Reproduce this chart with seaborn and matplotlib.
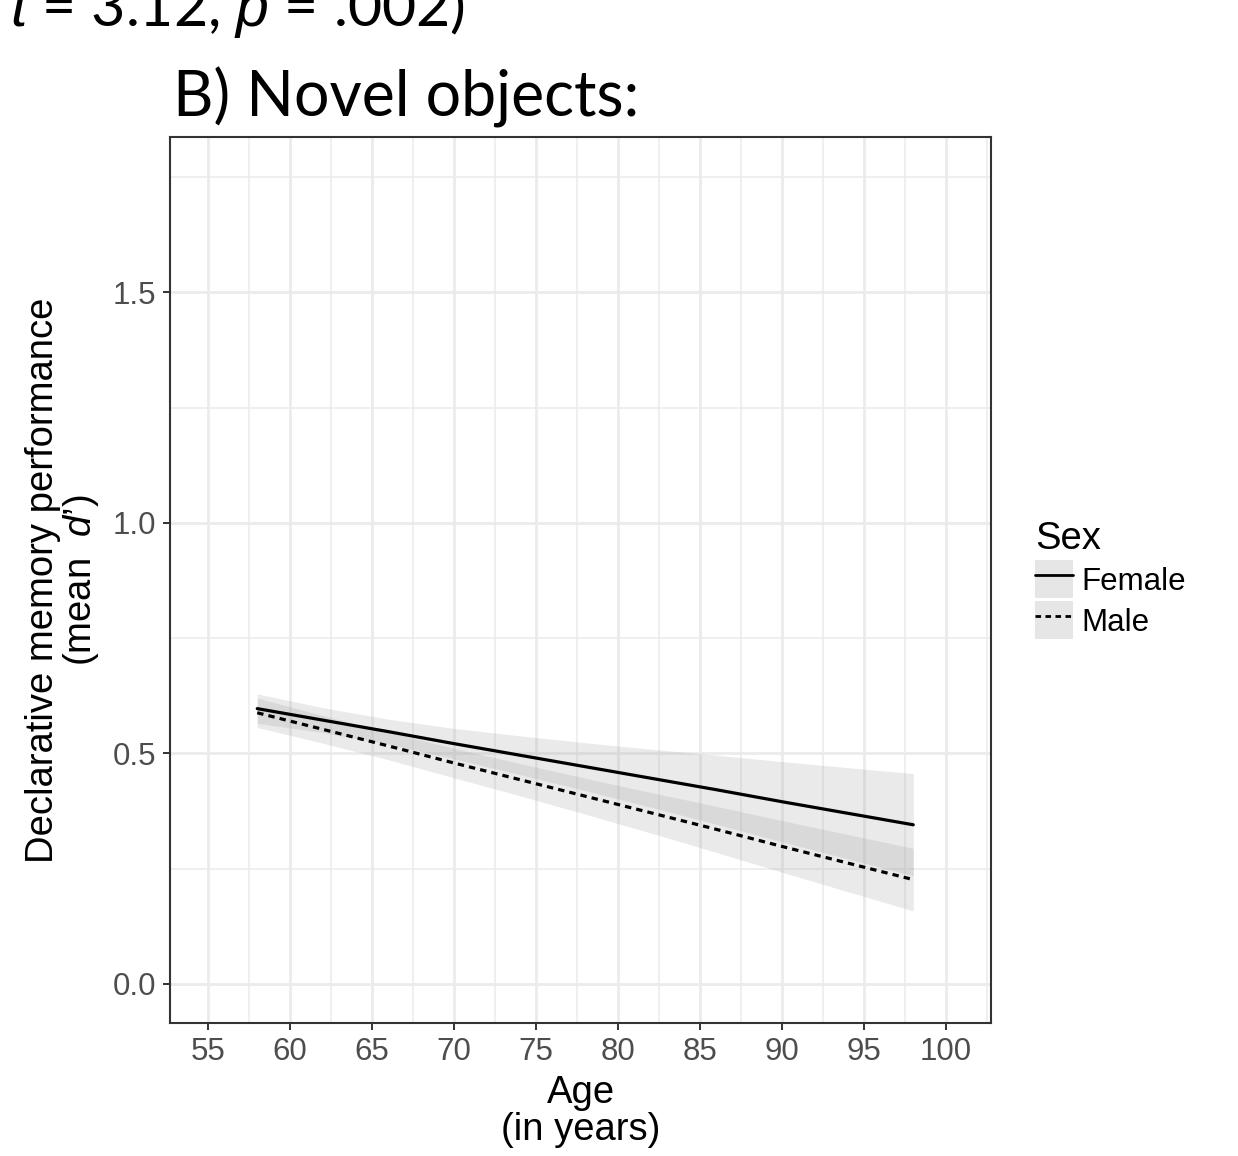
import matplotlib

matplotlib.use("Agg")
import matplotlib.pyplot as plt
import pandas as pd
import seaborn as sns
from matplotlib.lines import Line2D
from matplotlib.patches import Patch
from matplotlib.ticker import MultipleLocator


# values
AGES = [58, 62, 66, 70, 74, 78, 82, 86, 90, 94, 98]
FEMALE_FIT = [0.597, 0.572, 0.547, 0.521, 0.496, 0.471, 0.446, 0.421, 0.395, 0.370, 0.345]
FEMALE_LO = [0.565, 0.545, 0.520, 0.488, 0.454, 0.419, 0.383, 0.346, 0.308, 0.271, 0.234]
FEMALE_HI = [0.629, 0.599, 0.574, 0.554, 0.538, 0.523, 0.509, 0.496, 0.482, 0.469, 0.456]
MALE_FIT = [0.588, 0.552, 0.516, 0.479, 0.443, 0.407, 0.371, 0.335, 0.298, 0.262, 0.226]
MALE_LO = [0.556, 0.522, 0.486, 0.447, 0.408, 0.368, 0.327, 0.285, 0.242, 0.200, 0.158]
MALE_HI = [0.620, 0.582, 0.546, 0.511, 0.478, 0.446, 0.415, 0.385, 0.354, 0.324, 0.294]

SEX_LEVELS = ["Female", "Male"]
X_TICKS = [55, 60, 65, 70, 75, 80, 85, 90, 95, 100]
Y_TICKS = [0.0, 0.5, 1.0, 1.5]
Y_TICK_LABELS = ["0.0", "0.5", "1.0", "1.5"]

TITLE = "B) Novel objects:"
TOP_TEXT = r"$t$ = 3.12, $p$ = .002)"
X_LABEL = "Age\n(in years)"
Y_LABEL = "Declarative memory performance\n(mean  $d$’)"
LEGEND_TITLE = "Sex"


def build_frame():
    n = len(AGES)
    return pd.DataFrame(
        {
            "Age": AGES * 2,
            "fit": FEMALE_FIT + MALE_FIT,
            "lo": FEMALE_LO + MALE_LO,
            "hi": FEMALE_HI + MALE_HI,
            "Sex": ["Female"] * n + ["Male"] * n,
        }
    )


def main():
    sns.set_theme(style="white")
    plt.rcParams["font.family"] = ["Liberation Sans", "DejaVu Sans"]
    plt.rcParams["text.color"] = "black"
    plt.rcParams["mathtext.fontset"] = "custom"
    plt.rcParams["mathtext.it"] = "Liberation Sans:italic"
    plt.rcParams["mathtext.rm"] = "Liberation Sans"

    df = build_frame()
    dashes = {"Female": "", "Male": (2.0, 1.6)}

    fig = plt.figure(figsize=(12.38, 11.56), dpi=100)
    ax = fig.add_axes([170 / 1238, 133 / 1156, 821 / 1238, 886 / 1156])

    # confidence ribbons
    for sex in SEX_LEVELS:
        grp = df[df["Sex"] == sex]
        ax.fill_between(grp["Age"], grp["lo"], grp["hi"], color="#999999", alpha=0.2,
                        linewidth=0, zorder=1.5)

    sns.lineplot(data=df, x="Age", y="fit", style="Sex", style_order=SEX_LEVELS,
                 dashes=dashes, color="black", linewidth=2.3, estimator=None,
                 legend=False, ax=ax, zorder=3)

    ax.set_xlim(52.68, 102.74)
    ax.set_ylim(-0.085, 1.837)
    ax.set_xticks(X_TICKS)
    ax.set_xticklabels([str(t) for t in X_TICKS])
    ax.set_yticks(Y_TICKS)
    ax.set_yticklabels(Y_TICK_LABELS)
    ax.xaxis.set_minor_locator(MultipleLocator(2.5))
    ax.yaxis.set_minor_locator(MultipleLocator(0.25))
    ax.set_axisbelow(True)
    ax.grid(which="major", color="#EBEBEB", linewidth=2.0)
    ax.grid(which="minor", color="#EBEBEB", linewidth=1.1)
    ax.tick_params(which="major", length=5, width=1.4, color="#333333",
                   labelsize=22.5, labelcolor="#4D4D4D", pad=5,
                   bottom=True, left=True)
    ax.tick_params(which="minor", length=0)
    for sp in ax.spines.values():
        sp.set_visible(True)
        sp.set_color("#333333")
        sp.set_linewidth(1.5)

    ax.set_xlabel(X_LABEL, fontsize=27.5, color="black", labelpad=6, linespacing=1.02)
    ax.set_ylabel(Y_LABEL, fontsize=27.5, color="black", labelpad=8, linespacing=1.0)

    handles = []
    for sex in SEX_LEVELS:
        key = Patch(facecolor="#E6E6E6", edgecolor="none")
        ls = "-" if sex == "Female" else (0, dashes["Male"])
        line = Line2D([], [], color="black", linewidth=2.0, linestyle=ls)
        handles.append((key, line))
    leg = fig.legend(handles, SEX_LEVELS, title=LEGEND_TITLE, loc="center left",
                     bbox_to_anchor=(1035 / 1238, 0.498), frameon=False,
                     fontsize=22.5, title_fontsize=27.5, handlelength=1.22,
                     handleheight=1.49, labelspacing=0.1, handletextpad=0.26,
                     borderpad=0, borderaxespad=0, alignment="left")
    for txt in leg.get_texts():
        txt.set_color("black")
    leg.get_title().set_color("black")

    fig.text(173 / 1238, 1 - 117 / 1156, TITLE, fontsize=45, family="Lato",
             color="black", ha="left", va="baseline")
    # partial caption line cut off at the top edge, as in the source figure
    fig.text(10 / 1238, 1 - 26 / 1156, TOP_TEXT, fontsize=42.5, family="Lato",
             color="black", ha="left", va="baseline",
             math_fontfamily="custom")

    fig.savefig("out.png", dpi=100, facecolor="white")
    plt.close(fig)


if __name__ == "__main__":
    main()
